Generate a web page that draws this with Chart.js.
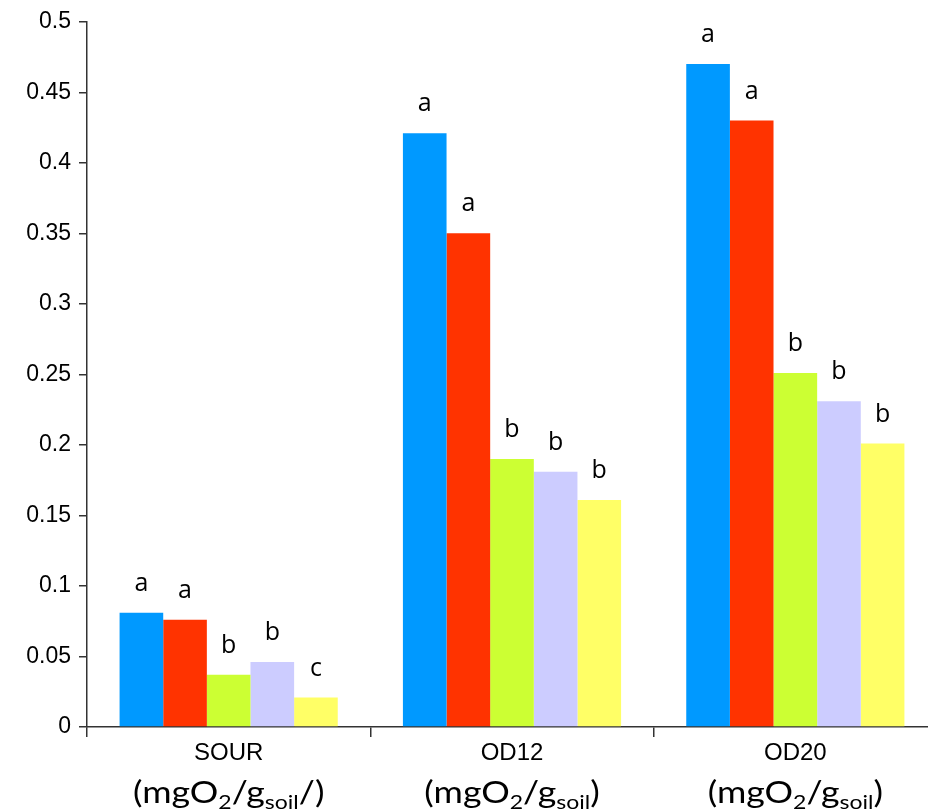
<!DOCTYPE html>
<html>
<head>
<meta charset="utf-8">
<script src="https://cdn.jsdelivr.net/npm/chart.js@4/dist/chart.umd.min.js"></script>
<style>
  html, body { margin: 0; padding: 0; background: #fff; overflow: hidden; }
  #wrap { width: 940px; height: 812px; }
</style>
</head>
<body>
<div id="wrap"><canvas id="barChart"></canvas></div>
<script>
// --- DATA ---
const categories = ['SOUR', 'OD12', 'OD20'];
const unitLabels = ['/)', ')', ')'];   // closing part of the unit line under each category
const yTicks = ['0', '0.05', '0.1', '0.15', '0.2', '0.25', '0.3', '0.35', '0.4', '0.45', '0.5'];

const series1 = [0.081, 0.421, 0.470];
const series2 = [0.076, 0.350, 0.430];
const series3 = [0.037, 0.190, 0.251];
const series4 = [0.046, 0.181, 0.231];
const series5 = [0.021, 0.161, 0.201];

const letters1 = ['a', 'a', 'a'];
const letters2 = ['a', 'a', 'a'];
const letters3 = ['b', 'b', 'b'];
const letters4 = ['b', 'b', 'b'];
const letters5 = ['c', 'b', 'b'];

const colors = ['#0099ff', '#ff3300', '#ccff33', '#ccccff', '#ffff66'];

// letters drawn above each bar
const letterPlugin = {
    id: 'letters',
    afterDatasetsDraw(chart) {
        const ctx = chart.ctx;
        ctx.save();
        ctx.fillStyle = '#000';
        ctx.font = '25px "Open Sans", "Noto Sans", sans-serif';
        ctx.textAlign = 'center';
        ctx.textBaseline = 'middle';
        chart.data.datasets.forEach((ds, i) => {
            const meta = chart.getDatasetMeta(i);
            meta.data.forEach((bar, j) => {
                ctx.fillText(ds.letters[j], bar.x, bar.y - 29);
            });
        });
        ctx.restore();
    }
};

// second line of the x labels: (mgO2/gsoil)
const unitPlugin = {
    id: 'units',
    afterDraw(chart) {
        const ctx = chart.ctx;
        const xs = chart.scales.x;
        const big = '31px Lato, "DejaVu Sans", sans-serif';
        const small = '20px Lato, "DejaVu Sans", sans-serif';
        const stretch = 1.15;
        const base = 803;
        ctx.save();
        ctx.fillStyle = '#000';
        ctx.textBaseline = 'alphabetic';
        ctx.textAlign = 'left';
        categories.forEach((c, i) => {
            const parts = [
                { t: '(mgO', f: big, dy: 0 },
                { t: '2', f: small, dy: 6 },
                { t: '/g', f: big, dy: 0 },
                { t: 'soil', f: small, dy: 6 },
                { t: unitLabels[i], f: big, dy: 0 }
            ];
            let w = 0;
            parts.forEach(p => { ctx.font = p.f; p.w = ctx.measureText(p.t).width; w += p.w; });
            const cx = xs.getPixelForValue(i);
            ctx.save();
            ctx.translate(cx, 0);
            ctx.scale(stretch, 1);
            let x = -w / 2;
            parts.forEach(p => {
                ctx.font = p.f;
                ctx.fillText(p.t, x, base + p.dy);
                x += p.w;
            });
            ctx.restore();
        });
        ctx.restore();
    }
};

function initChart() {
    const ctx = document.getElementById('barChart');
    const seriesList = [series1, series2, series3, series4, series5];
    const letterList = [letters1, letters2, letters3, letters4, letters5];

    new Chart(ctx.getContext('2d'), {
        type: 'bar',
        data: {
            labels: categories,
            datasets: seriesList.map((s, i) => ({
                label: 'Series ' + (i + 1),
                data: s,
                letters: letterList[i],
                backgroundColor: colors[i],
                borderWidth: 0,
                categoryPercentage: 0.77,
                barPercentage: 1.0
            }))
        },
        options: {
            responsive: true,
            maintainAspectRatio: false,
            animation: false,
            layout: { padding: { top: 20, right: 3, left: 0, bottom: 0 } },
            scales: {
                y: {
                    min: 0,
                    max: 0.5,
                    afterFit: (scale) => { scale.width = 87; },
                    ticks: {
                        stepSize: 0.05,
                        color: '#000',
                        padding: 8,
                        font: { family: '"Liberation Sans", Arial, sans-serif', size: 23 },
                        callback: (v, idx) => yTicks[idx]
                    },
                    grid: { drawOnChartArea: false, drawTicks: true, tickLength: 8, color: '#333', lineWidth: 1.5 },
                    border: { display: true, color: '#333', width: 1.5 }
                },
                x: {
                    afterFit: (scale) => { scale.height = 85; },
                    ticks: {
                        color: '#000',
                        padding: 2,
                        font: { family: '"Liberation Sans", Arial, sans-serif', size: 24 }
                    },
                    grid: { drawOnChartArea: false, drawTicks: true, tickLength: 10, color: '#333', lineWidth: 1.5 },
                    border: { display: true, color: '#333', width: 1.5 }
                }
            },
            plugins: {
                legend: { display: false },
                tooltip: { enabled: false }
            }
        },
        plugins: [letterPlugin, unitPlugin]
    });
}

document.addEventListener('DOMContentLoaded', () => {
    initChart();
});
</script>
</body>
</html>
